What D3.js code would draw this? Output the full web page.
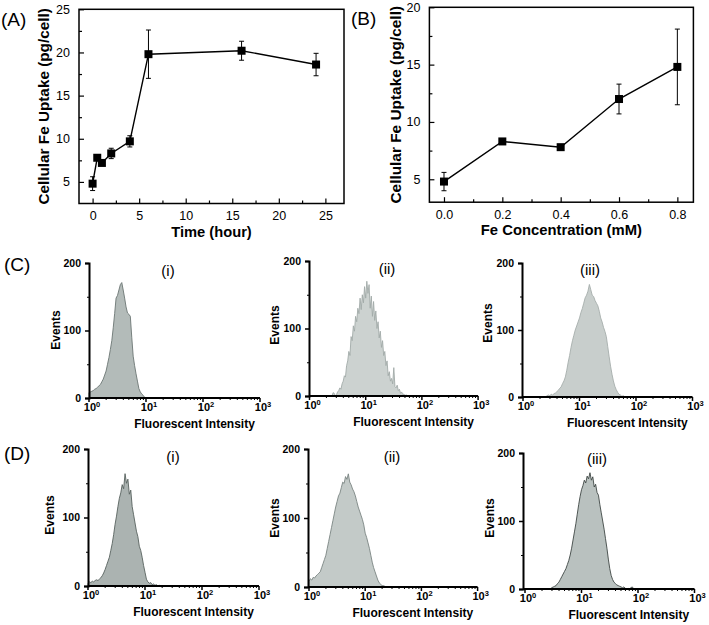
<!DOCTYPE html>
<html><head><meta charset="utf-8">
<script src="https://cdn.jsdelivr.net/npm/d3@7"></script>
<style>
body{margin:0;background:#fff;}
svg{display:block;font-family:"Liberation Sans",Arial,sans-serif;}
</style></head>
<body><svg id="c" width="709" height="625"></svg>
<script>
// ---------- Panel A data ----------
const timeHours = [0, 0.5, 1, 2, 4, 6, 16, 24];
const uptakeTime = [4.8, 7.8, 7.2, 8.3, 9.7, 19.8, 20.2, 18.6];
const errTime = [0.8, 0.3, 0.3, 0.6, 0.65, 2.8, 1.1, 1.3];
const xTicksA = [0, 5, 10, 15, 20, 25];
const yTicksA = [5, 10, 15, 20, 25];
// ---------- Panel B data ----------
const feConc = [0.0, 0.2, 0.4, 0.6, 0.8];
const uptakeConc = [4.8, 8.3, 7.8, 12.0, 14.8];
const errConc = [0.8, 0.25, 0.2, 1.3, 3.3];
const xTicksB = [0.0, 0.2, 0.4, 0.6, 0.8];
const yTicksB = [5, 10, 15, 20];
// ---------- Flow cytometry histograms (log10 start, bin step, counts) ----------
const histCi = {start:0.0, step:0.025, counts:[8,9,10,11,13,14,16,18,20,24,28,34,40,50,60,72,85,104,125,148,152,160,168,171,160,148,135,126,124,121,90,62,48,36,25,14,9,6,4,1,0]};
const histCii = {start:0.40, step:0.02, counts:[0,5,4,0,2,6,8,12,10,18,22,30,28,45,52,66,60,88,82,104,96,118,110,130,122,145,128,150,138,162,145,170,152,165,130,148,118,140,112,126,100,110,86,96,72,82,60,66,45,52,30,36,22,26,18,42,14,12,16,8,10,4,6,2,3,0,2,0]};
const histCiii = {start:0.40, step:0.025, counts:[0,2,3,2,4,3,5,6,8,10,13,15,20,24,30,40,52,62,74,84,92,100,106,112,118,126,132,140,148,152,158,168,160,152,150,144,140,136,128,118,112,104,98,90,75,60,46,34,24,16,11,7,4,3,1,2,0]};
const histDi = {start:0.0, step:0.025, counts:[4,6,5,7,6,8,9,8,10,12,15,19,24,30,36,42,52,62,75,90,102,116,128,136,148,142,164,150,156,134,140,116,104,92,80,72,58,52,42,30,20,10,6,4,5,2,3,1,2,0,1,0]};
const histDii = {start:0.0, step:0.025, counts:[8,12,10,14,13,16,18,20,22,28,34,40,46,56,66,76,86,96,106,116,124,132,136,144,152,150,160,156,164,152,148,142,138,132,124,116,110,104,98,90,78,72,64,56,46,36,28,22,16,10,6,4,2,2,1,0,0]};
const histDiii = {start:0.45, step:0.025, counts:[0,2,3,4,5,8,10,14,18,22,26,30,36,42,50,60,72,84,96,110,124,136,146,152,160,156,166,162,171,160,165,150,154,142,138,124,112,100,88,74,60,44,30,20,14,10,8,6,5,4,3,2,3,1,0,1,0,2,3,0,0]};
const flowXTicks = [1, 10, 100, 1000];
const flowYTicks = [0, 100, 200];

const svg = d3.select("#c");
const FONT = '"Liberation Sans",Arial,sans-serif';

// ---------- line chart panels ----------
function linePanel(o){
  const g = svg.append("g");
  const x = d3.scaleLinear().domain(o.xd).range([o.L, o.R]);
  const y = d3.scaleLinear().domain(o.yd).range([o.B, o.T]);
  g.append("rect").attr("x",o.L).attr("y",o.T).attr("width",o.R-o.L).attr("height",o.B-o.T)
    .attr("fill","none").attr("stroke","#000").attr("stroke-width",1.5);
  const ax = d3.axisBottom(x).tickValues(o.xt).tickSize(-5).tickPadding(8).tickFormat(o.xf);
  const gx = g.append("g").attr("transform",`translate(0,${o.B})`).call(ax);
  gx.select(".domain").remove();
  gx.selectAll("line").attr("stroke-width",1.2);
  gx.selectAll("text").attr("font-size",12.5).attr("font-family",FONT).attr("fill","#000");
  const axm = d3.axisBottom(x).tickValues(o.xm).tickSize(-3).tickFormat("");
  const gxm = g.append("g").attr("transform",`translate(0,${o.B})`).call(axm);
  gxm.select(".domain").remove(); gxm.selectAll("line").attr("stroke-width",1.2);
  const ay = d3.axisLeft(y).tickValues(o.yt).tickSize(-5).tickPadding(9);
  const gy = g.append("g").attr("transform",`translate(${o.L},0)`).call(ay);
  gy.select(".domain").remove();
  gy.selectAll("line").attr("stroke-width",1.2);
  gy.selectAll("text").attr("font-size",12.5).attr("font-family",FONT).attr("fill","#000");
  const aym = d3.axisLeft(y).tickValues(o.ym).tickSize(-3).tickFormat("");
  const gym = g.append("g").attr("transform",`translate(${o.L},0)`).call(aym);
  gym.select(".domain").remove(); gym.selectAll("line").attr("stroke-width",1.2);
  const pts = o.xs.map((v,i)=>({x:v,y:o.ys[i],e:o.es[i]}));
  g.append("path").datum(pts).attr("fill","none").attr("stroke","#000").attr("stroke-width",1.4)
    .attr("d", d3.line().x(d=>x(d.x)).y(d=>y(d.y)));
  const eb = g.selectAll(".eb").data(pts).enter().append("g");
  eb.append("line").attr("x1",d=>x(d.x)).attr("x2",d=>x(d.x)).attr("y1",d=>y(d.y-d.e)).attr("y2",d=>y(d.y+d.e)).attr("stroke","#000").attr("stroke-width",1);
  eb.append("line").attr("x1",d=>x(d.x)-2.5).attr("x2",d=>x(d.x)+2.5).attr("y1",d=>y(d.y-d.e)).attr("y2",d=>y(d.y-d.e)).attr("stroke","#000").attr("stroke-width",1);
  eb.append("line").attr("x1",d=>x(d.x)-2.5).attr("x2",d=>x(d.x)+2.5).attr("y1",d=>y(d.y+d.e)).attr("y2",d=>y(d.y+d.e)).attr("stroke","#000").attr("stroke-width",1);
  g.selectAll(".mk").data(pts).enter().append("rect")
    .attr("x",d=>x(d.x)-4).attr("y",d=>y(d.y)-4).attr("width",8).attr("height",8).attr("fill","#000");
  g.append("text").attr("x",(o.L+o.R)/2).attr("y",o.B+33).attr("text-anchor","middle")
    .attr("font-size",o.xts).attr("font-weight","bold").text(o.xlab);
  g.append("text").attr("transform",`translate(${o.ylx},${(o.T+o.B)/2}) rotate(-90)`).attr("text-anchor","middle")
    .attr("dy","0.35em").attr("font-size",o.yts).attr("font-weight","bold").text(o.ylab);
  g.append("text").attr("x",o.px).attr("y",o.py).attr("font-size",19).text(o.plab);
}

linePanel({L:79,R:344,T:9.3,B:203.5,xd:[-1.46,27],yd:[2.5,25],xs:timeHours,ys:uptakeTime,es:errTime,
  xt:xTicksA,xm:[2.5,7.5,12.5,17.5,22.5],yt:yTicksA,ym:[7.5,12.5,17.5,22.5],xf:d3.format("d"),
  xlab:"Time (hour)",ylab:"Cellular Fe Uptake (pg/cell)",xts:14.7,yts:15.3,ylx:44,plab:"(A)",px:1,py:26});
linePanel({L:429.4,R:693.4,T:7.3,B:202.2,xd:[-0.05,0.855],yd:[3,20],xs:feConc,ys:uptakeConc,es:errConc,
  xt:xTicksB,xm:[0.1,0.3,0.5,0.7],yt:yTicksB,ym:[7.5,12.5,17.5],xf:d3.format(".1f"),
  xlab:"Fe Concentration (mM)",ylab:"Cellular Fe Uptake (pg/cell)",xts:14.8,yts:15.4,ylx:396,plab:"(B)",px:351,py:25});

// ---------- flow histograms ----------
function histPanel(o){
  const g = svg.append("g");
  const x = d3.scaleLog().domain([1,1000]).range([o.x0, o.x0+3*o.dec]);
  const y = d3.scaleLinear().domain([0,200]).range([o.base, o.top]);
  const h = o.h;
  const pts = h.counts.map((c,i)=>({lx:h.start+i*h.step, c:c}));
  g.append("path").datum(pts).attr("fill",o.fill).attr("stroke",o.stroke).attr("stroke-width",0.9)
    .attr("d", d3.area().x(d=>x(Math.pow(10,d.lx))).y0(y(0)).y1(d=>y(d.c)));
  const ay = d3.axisLeft(y).tickValues(flowYTicks).tickSize(4).tickPadding(4);
  const gy = g.append("g").attr("transform",`translate(${o.ox},0)`).call(ay);
  gy.select(".domain").attr("stroke-width",2);
  gy.selectAll("line").attr("stroke-width",1.5);
  gy.selectAll("text").attr("font-size",10.5).attr("font-weight","bold").attr("font-family",FONT).attr("fill","#000");
  const aym = d3.axisLeft(y).tickValues([50,150]).tickSize(2).tickFormat("");
  const gym = g.append("g").attr("transform",`translate(${o.ox},0)`).call(aym);
  gym.select(".domain").remove(); gym.selectAll("line").attr("stroke-width",1);
  g.append("line").attr("x1",o.ox).attr("x2",x(1000)).attr("y1",o.base).attr("y2",o.base).attr("stroke","#000").attr("stroke-width",2);
  const minors = [];
  [1,10,100].forEach(d=>{for(let k=2;k<=9;k++) minors.push(d*k);});
  g.selectAll(".mj").data(flowXTicks).enter().append("line").attr("x1",d=>x(d)).attr("x2",d=>x(d))
    .attr("y1",o.base).attr("y2",o.base+4).attr("stroke","#000").attr("stroke-width",1.5);
  g.selectAll(".mn").data(minors).enter().append("line").attr("x1",d=>x(d)).attr("x2",d=>x(d))
    .attr("y1",o.base).attr("y2",o.base+2).attr("stroke","#000").attr("stroke-width",1);
  const tl = g.selectAll(".tl").data(flowXTicks).enter().append("text")
    .attr("x",d=>x(d)+3).attr("y",o.base+13).attr("text-anchor","middle")
    .attr("font-size",11).attr("font-weight","bold");
  tl.append("tspan").text("10");
  tl.append("tspan").attr("dy",-4).attr("font-size",7.5).text(d=>Math.round(Math.log10(d)));
  g.append("text").attr("x",(o.ox+x(1000))/2+20).attr("y",o.base+30).attr("text-anchor","middle")
    .attr("font-size",12).attr("font-weight","bold").text("Fluorescent Intensity");
  g.append("text").attr("transform",`translate(${o.ex},${o.ey}) rotate(-90)`).attr("text-anchor","middle")
    .attr("dy","0.35em").attr("font-size",12).attr("font-weight","bold").text("Events");
  g.append("text").attr("x",o.tx).attr("y",o.ty).attr("text-anchor","middle").attr("font-size",15).text(o.title);
}

histPanel({h:histCi,ox:89,x0:89,dec:57,base:398,top:263,fill:"#b3bbb9",stroke:"#6c7674",ex:56,ey:330,tx:168,ty:276,title:"(i)"});
histPanel({h:histCii,ox:309,x0:309.5,dec:56.2,base:396,top:261,fill:"#ccd2d0",stroke:"#a2aaa8",ex:275,ey:325,tx:387,ty:274,title:"(ii)"});
histPanel({h:histCiii,ox:522,x0:523,dec:56.5,base:397,top:263,fill:"#c8cecc",stroke:"#a6aeac",ex:488,ey:323,tx:590,ty:275,title:"(iii)"});
histPanel({h:histDi,ox:88,x0:88,dec:57,base:586,top:449,fill:"#abb3b1",stroke:"#58625f",ex:50,ey:515,tx:173,ty:462,title:"(i)"});
histPanel({h:histDii,ox:308,x0:309,dec:56.2,base:587,top:449,fill:"#c3cac8",stroke:"#7b8482",ex:275,ey:518,tx:392,ty:462,title:"(ii)"});
histPanel({h:histDiii,ox:523,x0:525,dec:56.5,base:589,top:453,fill:"#b9c1bf",stroke:"#3f4745",ex:490,ey:518,tx:597,ty:464,title:"(iii)"});

svg.append("text").attr("x",4).attr("y",271).attr("font-size",19).text("(C)");
svg.append("text").attr("x",4).attr("y",460).attr("font-size",19).text("(D)");
</script></body></html>
